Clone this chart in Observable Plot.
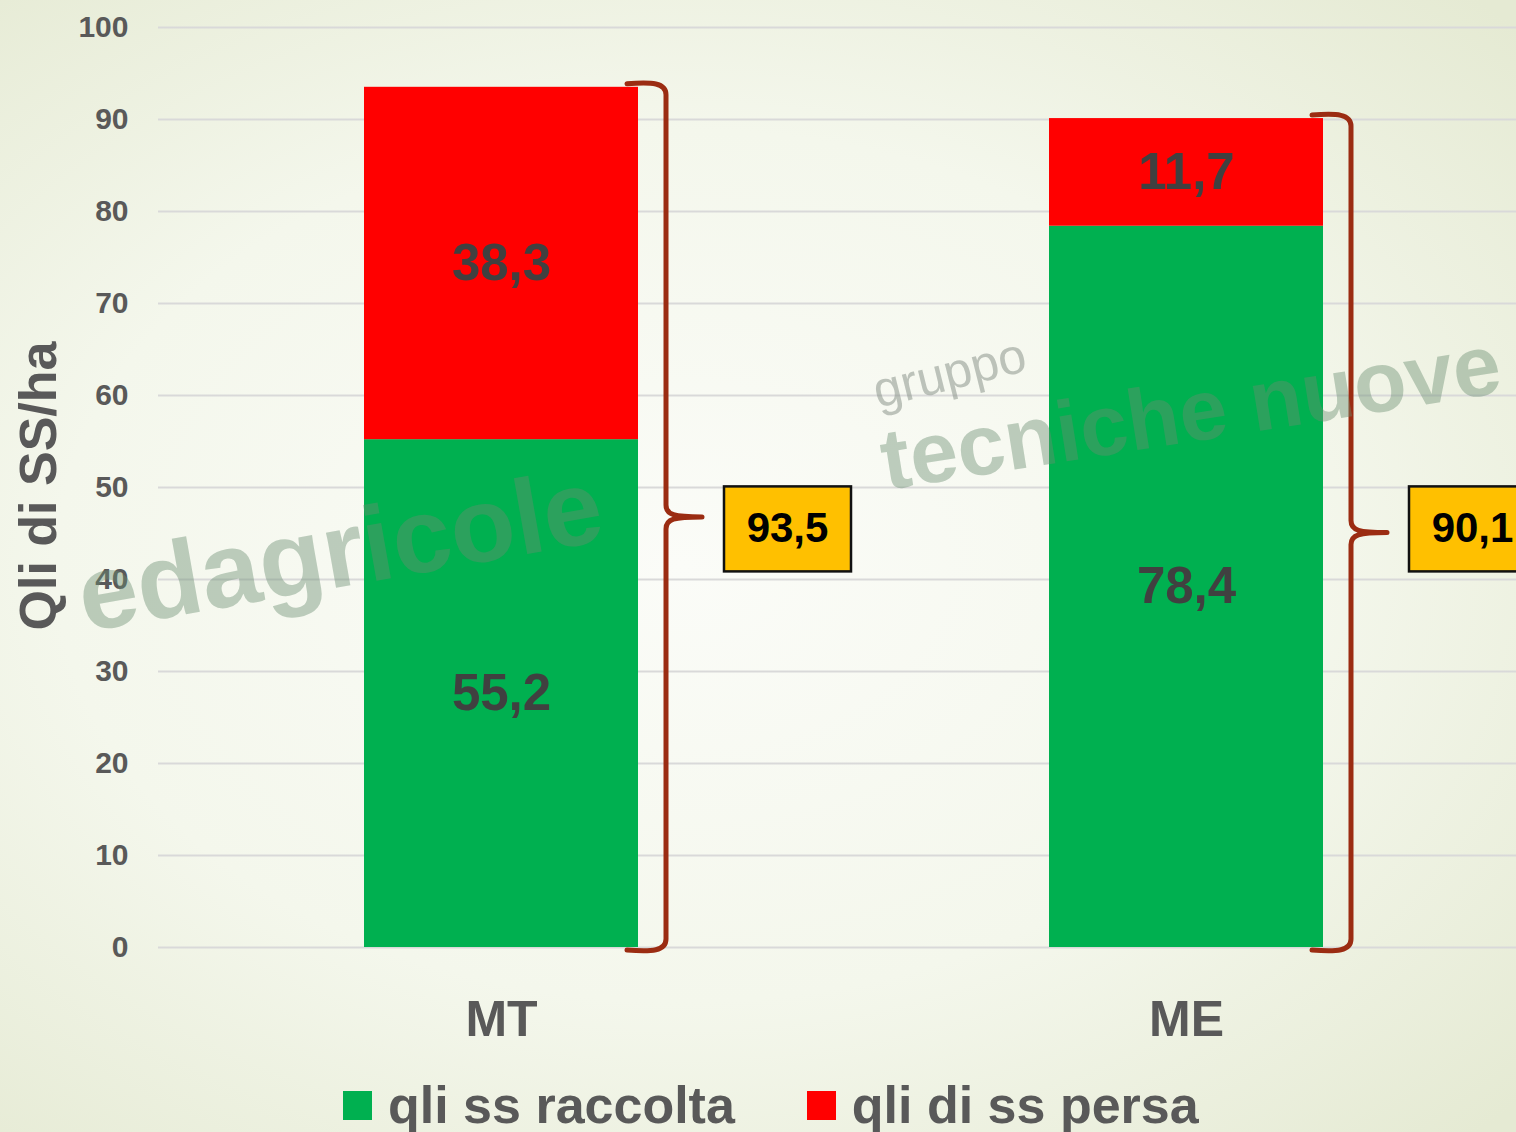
<!DOCTYPE html>
<html>
<head>
<meta charset="utf-8">
<script src="https://cdn.jsdelivr.net/npm/d3@7"></script>
<script src="https://cdn.jsdelivr.net/npm/@observablehq/plot@0.6"></script>
<style>
html, body { margin: 0; padding: 0; }
body {
  width: 1516px; height: 1132px; overflow: hidden; position: relative;
  background: radial-gradient(ellipse 75% 70% at 45% 50%, #fbfcf8 0%, #f4f7ec 55%, #e5ead3 100%);
  font-family: "Liberation Sans", Arial, sans-serif;
}
#chart { position: absolute; left: 0; top: 0; }
#chart svg { background: transparent; overflow: visible; }
#ylabel {
  position: absolute; left: 38px; top: 486px;
  transform: translate(-50%, -50%) rotate(-90deg);
  font: bold 52px "Liberation Sans", sans-serif;
  color: #595959; white-space: nowrap;
}
#legend {
  position: absolute; left: 343px; top: 1076px; height: 58px;
  display: flex; align-items: center;
}
#legend .item { display: flex; align-items: center; margin-right: 72px; }
#legend .sw { width: 29px; height: 29px; margin-right: 16px; }
#legend .lt { font: bold 52px "Liberation Sans", sans-serif; color: #595959; line-height: 58px; }
#wm { position: absolute; left: 0; top: 0; pointer-events: none; }
</style>
</head>
<body>
<div id="chart"></div>
<svg id="wm" width="1516" height="1132">
  <text x="85" y="632" transform="rotate(-10 85 632)" font-family="Liberation Sans" font-weight="bold" font-size="106" fill="rgb(105,140,112)" fill-opacity="0.42">edagricole</text>
  <text x="878" y="408" transform="rotate(-14 878 408)" font-family="Liberation Sans" font-size="50" fill="rgb(140,150,140)" fill-opacity="0.55">gruppo</text>
  <text x="886" y="490" transform="rotate(-9 886 490)" font-family="Liberation Sans" font-weight="bold" font-size="86" fill="rgb(105,140,112)" fill-opacity="0.42">tecniche nuove</text>
</svg>
<div id="ylabel">Qli di SS/ha</div>
<div id="legend"></div>
<script>
// ---- data ----
const categories = ["MT", "ME"];
const seriesNames = ["qli ss raccolta", "qli di ss persa"];
const raccolta = [55.2, 78.4];
const persa = [38.3, 11.7];
const totals = [93.5, 90.1];
const seriesColors = ["#00B050", "#FF0000"];
const yTicks = [0, 10, 20, 30, 40, 50, 60, 70, 80, 90, 100];

const fmt = v => v.toFixed(1).replace(".", ",");

const rows = [];
categories.forEach((c, i) => {
  rows.push({cat: c, series: seriesNames[0], value: raccolta[i]});
  rows.push({cat: c, series: seriesNames[1], value: persa[i]});
});
const totalRows = categories.map((c, i) => ({cat: c, total: totals[i]}));

const BOX_Y = 45.5; // vertical anchor of total boxes (data units)
const braceColor = "#9b2c12";

function bracesAndBoxes(index, scales) {
  const x = scales.x, y = scales.y, bw = x.bandwidth();
  const g = d3.create("svg:g");
  for (const d of totalRows) {
    const xr = x(d.cat) + bw;
    const yt = y(d.total), yb = y(0), ym = (yt + yb) / 2;
    const vx = xr + 28, tip = xr + 64, hx = xr - 11;
    const p = [
      `M${hx},${yt - 3}`,
      `C${xr + 14},${yt - 5} ${vx},${yt - 4} ${vx},${yt + 8}`,
      `L${vx},${ym - 12}`,
      `C${vx},${ym - 2} ${vx + 8},${ym} ${tip},${ym}`,
      `C${vx + 8},${ym} ${vx},${ym + 2} ${vx},${ym + 12}`,
      `L${vx},${yb - 8}`,
      `C${vx},${yb + 4} ${xr + 14},${yb + 5} ${hx},${yb + 3}`
    ].join(" ");
    g.append("path").attr("d", p).attr("fill", "none")
      .attr("stroke", braceColor).attr("stroke-width", 5)
      .attr("stroke-linecap", "round").attr("stroke-linejoin", "round");
    const by = y(BOX_Y);
    g.append("rect").attr("x", xr + 86).attr("y", by - 42).attr("width", 127).attr("height", 85)
      .attr("fill", "#FFC000").attr("stroke", "#111").attr("stroke-width", 2.5);
  }
  return g.node();
}

const plot = Plot.plot({
  width: 1516,
  height: 1060,
  marginTop: 27,
  marginBottom: 113,
  marginLeft: 158,
  marginRight: 0,
  style: {background: "transparent", color: "#595959", overflow: "visible"},
  x: {domain: categories, range: [158, 1529], paddingInner: 0.6, paddingOuter: 0.3, label: null},
  y: {domain: [0, 100], label: null},
  color: {domain: seriesNames, range: seriesColors},
  marks: [
    Plot.gridY(yTicks, {stroke: "#d9d9d9", strokeOpacity: 1, strokeWidth: 2}),
    Plot.axisY({ticks: yTicks, tickSize: 0, tickPadding: 30, label: null,
      fontSize: 30, fontWeight: "bold", fontFamily: "Liberation Sans, sans-serif", fill: "#595959"}),
    Plot.axisX({tickSize: 0, tickPadding: 53, label: null,
      fontSize: 50, fontWeight: "bold", fontFamily: "Liberation Sans, sans-serif", fill: "#595959"}),
    Plot.barY(rows, {x: "cat", y: "value", fill: "series"}),
    Plot.text(rows, Plot.stackY({x: "cat", y: "value", z: "series", text: d => fmt(d.value),
      fontSize: 51, fontWeight: "bold", fontFamily: "Liberation Sans, sans-serif", fill: "#404040"})),
    bracesAndBoxes,
    Plot.text(totalRows, {x: "cat", y: () => BOX_Y, text: d => fmt(d.total), dx: 286,
      fontSize: 42, fontWeight: "bold", fontFamily: "Liberation Sans, sans-serif", fill: "#000"})
  ]
});
document.getElementById("chart").appendChild(plot);

// legend
const legend = d3.select("#legend");
seriesNames.forEach((name, i) => {
  const item = legend.append("div").attr("class", "item");
  item.append("span").attr("class", "sw").style("background", seriesColors[i]);
  item.append("span").attr("class", "lt").text(name);
});
</script>
</body>
</html>
